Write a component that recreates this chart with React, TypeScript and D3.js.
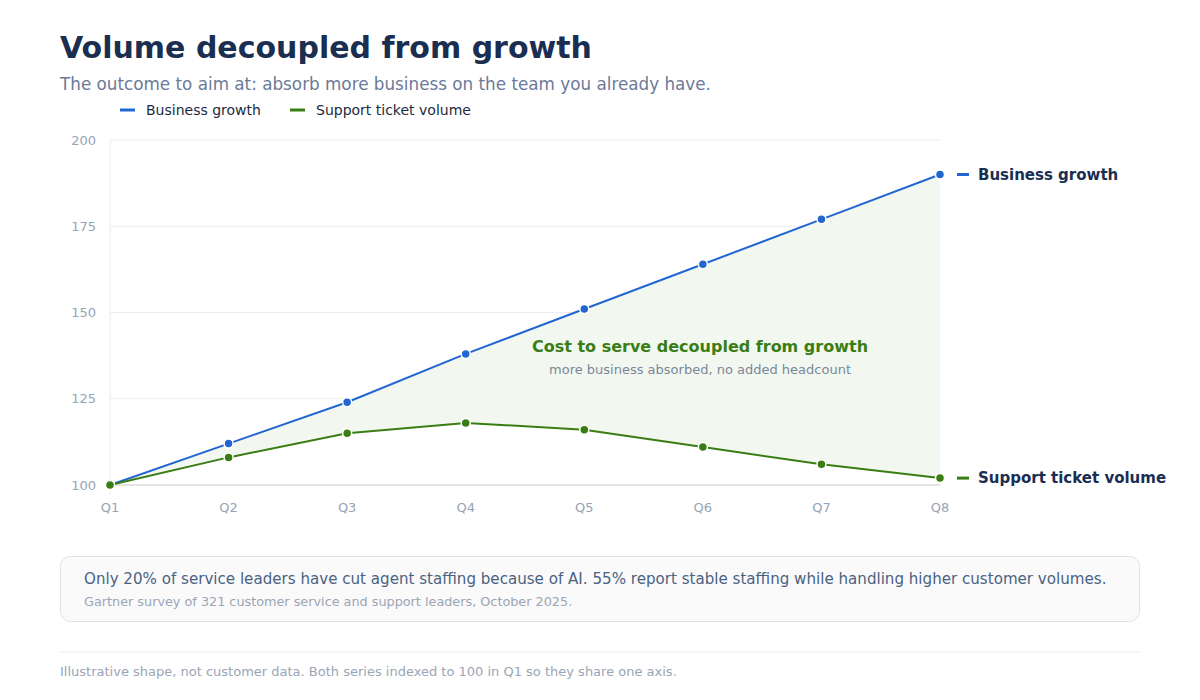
import { useMemo } from "react";
import * as d3 from "d3";

const quarters = ["Q1", "Q2", "Q3", "Q4", "Q5", "Q6", "Q7", "Q8"];
const businessGrowth = [100, 112, 124, 138, 151, 164, 177, 190];
const ticketVolume = [100, 108, 115, 118, 116, 111, 106, 102];
const yTicks = [100, 125, 150, 175, 200];

const BLUE = "#2366d1";
const GREEN = "#3a7d14";
const FONT = "DejaVu Sans, sans-serif";

const margin = { top: 140, left: 110, right: 260, bottom: 215 };
const width = 1200;
const height = 700;

export default function App() {
  const x = useMemo(
    () => d3.scalePoint<string>().domain(quarters).range([margin.left, width - margin.right]),
    []
  );
  const y = useMemo(
    () => d3.scaleLinear().domain([100, 200]).range([height - margin.bottom, margin.top]),
    []
  );

  const line = d3
    .line<number>()
    .x((_, i) => x(quarters[i])!)
    .y((d) => y(d));

  const area = d3
    .area<number>()
    .x((_, i) => x(quarters[i])!)
    .y0((_, i) => y(ticketVolume[i]))
    .y1((d) => y(d));

  const x0 = x(quarters[0])!;
  const x1 = x(quarters[quarters.length - 1])!;
  const last = quarters.length - 1;

  const series = [
    { name: "Business growth", values: businessGrowth, color: BLUE },
    { name: "Support ticket volume", values: ticketVolume, color: GREEN },
  ];

  return (
    <svg
      width={width}
      height={height}
      style={{ position: "absolute", left: 0, top: 0, fontFamily: FONT }}
    >
      <rect width={width} height={height} fill="#fff" />

      {/* header */}
      <text x={60} y={58} fontSize={30} fontWeight="bold" fill="#1a2e52">
        Volume decoupled from growth
      </text>
      <text x={60} y={90} fontSize={16.8} fill="#6b7a99">
        The outcome to aim at: absorb more business on the team you already have.
      </text>

      {/* legend */}
      {series.map((s, i) => {
        const lx = i === 0 ? 120 : 290;
        return (
          <g key={s.name}>
            <line x1={lx} x2={lx + 15} y1={110} y2={110} stroke={s.color} strokeWidth={3} />
            <text x={lx + 26} y={115} fontSize={14} fill="#1e2a40">
              {s.name}
            </text>
          </g>
        );
      })}

      {/* grid */}
      {yTicks.map((t) => (
        <g key={t}>
          {t !== 100 && (
            <line x1={x0} x2={x1} y1={y(t)} y2={y(t)} stroke="#ececec" strokeWidth={1} />
          )}
          <text x={96} y={y(t) + 4.5} textAnchor="end" fontSize={13} fill="#97a3b6">
            {t}
          </text>
        </g>
      ))}
      <line x1={x0} x2={x0} y1={y(200)} y2={y(100) + 10} stroke="#ececec" strokeWidth={1} />

      {/* gap area */}
      <path d={area(businessGrowth) ?? ""} fill="#f2f8f0" />

      <line x1={x0} x2={x1} y1={y(100)} y2={y(100)} stroke="#c8c8c8" strokeWidth={1.2} />

      {quarters.map((q) => (
        <text key={q} x={x(q)} y={y(100) + 27} textAnchor="middle" fontSize={13} fill="#97a3b6">
          {q}
        </text>
      ))}

      {/* series */}
      {series.map((s) => (
        <g key={s.name}>
          <path d={line(s.values) ?? ""} fill="none" stroke={s.color} strokeWidth={2} />
          {s.values.map((v, i) => (
            <circle
              key={i}
              cx={x(quarters[i])}
              cy={y(v)}
              r={4.5}
              fill={s.color}
              stroke="#fff"
              strokeWidth={1.5}
            />
          ))}
          <line
            x1={x1 + 17}
            x2={x1 + 29}
            y1={y(s.values[last])}
            y2={y(s.values[last])}
            stroke={s.color}
            strokeWidth={3}
          />
          <text x={x1 + 38} y={y(s.values[last]) + 5} fontSize={15} fontWeight="bold" fill="#1a2e52">
            {s.name}
          </text>
        </g>
      ))}

      {/* annotation */}
      <text x={700} y={352} textAnchor="middle" fontSize={16} fontWeight="bold" fill={GREEN}>
        Cost to serve decoupled from growth
      </text>
      <text x={700} y={374} textAnchor="middle" fontSize={13} fill="#7a869a">
        more business absorbed, no added headcount
      </text>

      {/* callout box */}
      <rect x={60.5} y={556.5} width={1079} height={65} rx={10} fill="#fafafa" stroke="#e2e2e2" />
      <text x={84} y={584} fontSize={15.1} fill="#4a6282">
        Only 20% of service leaders have cut agent staffing because of AI. 55% report stable staffing while handling higher customer volumes.
      </text>
      <text x={84} y={606} fontSize={12.8} fill="#9aa5b5">
        Gartner survey of 321 customer service and support leaders, October 2025.
      </text>

      <line x1={60} x2={1140} y1={652} y2={652} stroke="#ececec" strokeWidth={1} />
      <text x={60} y={676} fontSize={13} fill="#9aa5b5">
        Illustrative shape, not customer data. Both series indexed to 100 in Q1 so they share one axis.
      </text>
    </svg>
  );
}
